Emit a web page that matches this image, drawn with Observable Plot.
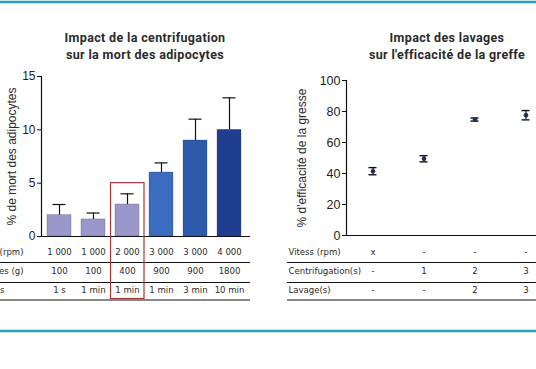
<!DOCTYPE html>
<html>
<head>
<meta charset="utf-8">
<script src="https://cdn.jsdelivr.net/npm/d3@7"></script>
<script src="https://cdn.jsdelivr.net/npm/@observablehq/plot@0.6"></script>
<style>
  html, body { margin: 0; padding: 0; background: #fff; }
  #root { position: relative; width: 536px; height: 369px; overflow: hidden; background: #fff; font-family: "Liberation Sans", Arial, sans-serif; color: #222; }
  .band { position: absolute; left: 0; width: 536px; height: 2px; background: #2e9db4; box-shadow: 0 0 1px 1px #bfe6ee; }
  .title { position: absolute; transform: translateX(-50%); white-space: nowrap; text-align: center; font-family: Roboto, "Liberation Sans", sans-serif; font-weight: 700; font-size: 12.5px; letter-spacing: 0.35px; line-height: 17px; color: #2a2a2a; }
  .plot { position: absolute; top: 0; }
</style>
</head>
<body>
<div id="root">
  <div class="band" style="top:1px"></div>
  <div class="band" style="top:330px"></div>
  <div class="title" style="left:145px;top:29px">Impact de la centrifugation<br>sur la mort des adipocytes</div>
  <div class="title" style="left:447px;top:29px">Impact des lavages<br>sur l'efficacité de la greffe</div>
  <div id="left" class="plot" style="left:0"></div>
  <div id="right" class="plot" style="left:270px"></div>
</div>
<script>
// ---------- Left chart data ----------
const vitesse = ["1 000", "1 000", "2 000", "3 000", "3 000", "4 000"];
const force = ["100", "100", "400", "900", "900", "1800"];
const temps = ["1 s", "1 min", "1 min", "1 min", "3 min", "10 min"];
const mort = [2.0, 1.6, 3.0, 6.0, 9.0, 10.0];
const mortErr = [1.0, 0.6, 1.0, 0.9, 2.0, 3.0];
const leftRowLabels = ["Vitess (rpm)", "Forces (g)", "Temps"];
const leftTicks = [0, 5, 10, 15];
const highlightIndex = 2;
const highlightTop = 5;

// ---------- Right chart data ----------
const groups = ["G1", "G2", "G3", "G4"];
const efficacite = [41.5, 49.5, 74.8, 77.6];
const efficaciteErr = [2.3, 2.0, 1.0, 3.0];
const rightRowLabels = ["Vitess (rpm)", "Centrifugation(s)", "Lavage(s)"];
const rowVitess = ["x", "-", "-", "-"];
const rowCentri = ["-", "1", "2", "3"];
const rowLavage = ["-", "-", "2", "3"];
const rightTicks = [0, 20, 40, 60, 80, 100];

const barColors = ["#9a97cb", "#9a97cb", "#9a97cb", "#3b6cc0", "#2e5aae", "#1f3e90"];
const tableFont = '"Liberation Sans Narrow", "DejaVu Sans Condensed", "Liberation Sans", sans-serif';
const axisFont = '"Liberation Sans", Arial, sans-serif';

const conditions = vitesse.map((v, i) => `${v} rpm · ${temps[i]}`);
const bars = conditions.map((c, i) => ({c, v: mort[i], e: mortErr[i], vit: vitesse[i], g: force[i], t: temps[i]}));

const leftTextRows = [["vit", 18], ["g", 37], ["t", 56.5]];
const leftLabelEnd = [-18, -18, -37];
const leftLines = [26, 46, 63.5];

const left = Plot.plot({
  width: 260, height: 305,
  marginLeft: 41, marginRight: 10, marginTop: 76, marginBottom: 69,
  x: {domain: conditions, range: [41, 246], paddingInner: 0.3, paddingOuter: 0.14, axis: null},
  y: {domain: [0, 15], axis: null},
  color: {domain: conditions, range: barColors},
  style: {fontFamily: axisFont, color: "#222", background: "transparent"},
  marks: [
    Plot.barY(bars, {x: "c", y: "v", fill: "c", stroke: "#3a3a66", strokeOpacity: 0.45, strokeWidth: 0.6}),
    Plot.ruleX(bars, {x: "c", y1: "v", y2: d => d.v + d.e, stroke: "#111", strokeWidth: 1.2}),
    Plot.tickY(bars, {x: "c", y: d => d.v + d.e, stroke: "#111", strokeWidth: 1.2, insetLeft: 5.5, insetRight: 5.5}),
    Plot.frame({anchor: "left", stroke: "#111", strokeWidth: 1.2}),
    Plot.ruleY([0], {stroke: "#111", strokeWidth: 1.2}),
    Plot.axisY({ticks: leftTicks, tickSize: 4, tickPadding: 2, fontSize: 12, label: null, stroke: "#111"}),
    Plot.text(["% de mort des adipocytes"], {frameAnchor: "left", textAnchor: "middle", dx: -29, rotate: -90, fontSize: 12, fill: "#2a2a2a"}),
    ...leftTextRows.map(([k, dy]) => Plot.text(bars, {x: "c", text: k, frameAnchor: "bottom", dy, fontFamily: tableFont, fontSize: 9.5, fill: "#2a2a2a"})),
    ...leftRowLabels.map((lab, i) => Plot.text([lab], {frameAnchor: "bottom-left", dx: leftLabelEnd[i], dy: leftTextRows[i][1], textAnchor: "end", fontFamily: tableFont, fontSize: 9.5, fill: "#2a2a2a"})),
    ...leftLines.map(dy => Plot.ruleY([0], {dy, insetLeft: -41, stroke: "#111", strokeWidth: 1})),
    Plot.barY([conditions[highlightIndex]], {x: d => d, y1: highlightTop, y2: 0, fill: "none", stroke: "#a8363a", strokeWidth: 1.2, insetLeft: -4.5, insetRight: -5, insetBottom: -62.5})
  ]
});
document.getElementById("left").appendChild(left);

// ---------- Right chart ----------
const points = groups.map((g, i) => ({g, v: efficacite[i], e: efficaciteErr[i], r1: rowVitess[i], r2: rowCentri[i], r3: rowLavage[i]}));
const rightTextRows = [["r1", 19], ["r2", 38], ["r3", 57.5]];
const rightLines = [27, 47, 64.5];

const right = Plot.plot({
  width: 266, height: 305,
  marginLeft: 76, marginRight: 0, marginTop: 80, marginBottom: 70,
  x: {domain: groups, range: [76, 281], padding: 0, axis: null},
  y: {domain: [0, 100], axis: null},
  style: {fontFamily: axisFont, color: "#222", background: "transparent"},
  marks: [
    Plot.frame({anchor: "left", stroke: "#111", strokeWidth: 1.2}),
    Plot.ruleY([0], {stroke: "#111", strokeWidth: 1.2}),
    Plot.axisY({ticks: rightTicks, tickSize: 4, tickPadding: 2, fontSize: 12.5, label: null, stroke: "#111"}),
    Plot.text(["% d'efficacité de la gresse"], {frameAnchor: "left", textAnchor: "middle", dx: -44, rotate: -90, fontSize: 12, fill: "#2a2a2a"}),
    Plot.ruleX(points, {x: "g", y1: d => d.v - d.e, y2: d => d.v + d.e, stroke: "#111", strokeWidth: 1.2}),
    Plot.tickY(points, {x: "g", y: d => d.v + d.e, stroke: "#111", strokeWidth: 1.4, insetLeft: 21.5, insetRight: 21.5}),
    Plot.tickY(points, {x: "g", y: d => d.v - d.e, stroke: "#111", strokeWidth: 1.4, insetLeft: 21.5, insetRight: 21.5}),
    Plot.dot(points, {x: "g", y: "v", r: 2.3, fill: "#1c2c5c"}),
    ...rightTextRows.map(([k, dy]) => Plot.text(points, {x: "g", text: k, frameAnchor: "bottom", dy, fontFamily: tableFont, fontSize: 9.5, fill: "#2a2a2a"})),
    ...rightRowLabels.map((lab, i) => Plot.text([lab], {frameAnchor: "bottom-left", dx: -58, dy: rightTextRows[i][1], textAnchor: "start", fontFamily: tableFont, fontSize: 9.5, fill: "#2a2a2a"})),
    ...rightLines.map(dy => Plot.ruleY([0], {dy, insetLeft: -59, stroke: "#111", strokeWidth: 1}))
  ]
});
document.getElementById("right").appendChild(right);
</script>
</body>
</html>
